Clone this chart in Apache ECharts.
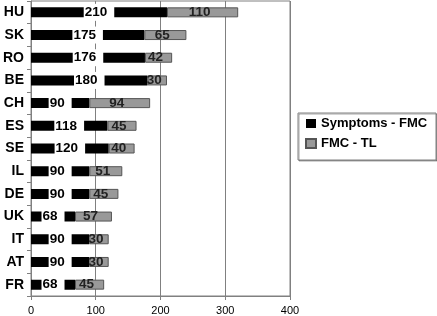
<!DOCTYPE html>
<html>
<head>
<meta charset="utf-8">
<script src="https://cdn.jsdelivr.net/npm/echarts@6/dist/echarts.min.js"></script>
<style>
  html, body { margin: 0; padding: 0; background: #fff; }
  #main { width: 437px; height: 316px; }
</style>
</head>
<body>
<div id="main"></div>
<script>
  // countries, top to bottom
  var countries = ['HU', 'SK', 'RO', 'BE', 'CH', 'ES', 'SE', 'IL', 'DE', 'UK', 'IT', 'AT', 'FR'];
  var symptomsFmc = [210, 175, 176, 180, 90, 118, 120, 90, 90, 68, 90, 90, 68];
  var fmcTl = [110, 65, 42, 30, 94, 45, 40, 51, 45, 57, 30, 30, 45];
  var seriesNames = ['Symptoms - FMC', 'FMC - TL'];

  var chart = echarts.init(document.getElementById('main'));
  var font = 'Liberation Sans, Arial, sans-serif';

  chart.setOption({
    animation: false,
    textStyle: { fontFamily: font },
    grid: {
      left: 29, right: 147, top: 1, bottom: 20,
      show: true, borderColor: '#808080', borderWidth: 1
    },
    graphic: [{
      type: 'rect',
      shape: { x: 298, y: 113, width: 138, height: 47 },
      style: { fill: '#fff', stroke: '#808080', lineWidth: 1,
               shadowColor: 'rgba(0,0,0,0.35)', shadowOffsetX: 1, shadowOffsetY: 1 }
    }],
    legend: {
      orient: 'vertical',
      left: 305, top: 117, padding: 0,
      itemWidth: 10, itemHeight: 9, itemGap: 7,
      icon: 'rect',
      textStyle: { fontSize: 13, fontWeight: 'bold', color: '#000', fontFamily: font },
      data: seriesNames
    },
    xAxis: {
      type: 'value',
      min: 0, max: 400, interval: 100,
      axisLine: { show: true, lineStyle: { color: '#808080' } },
      axisTick: { show: true, length: 4, lineStyle: { color: '#808080' } },
      axisLabel: { fontSize: 11, color: '#000', margin: 9 },
      splitLine: { show: true, lineStyle: { color: '#808080', width: 1 } }
    },
    yAxis: {
      type: 'category',
      inverse: true,
      data: countries,
      axisLine: { show: true, lineStyle: { color: '#808080' } },
      axisTick: { show: true, length: 4, inside: false, lineStyle: { color: '#808080' } },
      axisLabel: { fontSize: 14, fontWeight: 'bold', color: '#000', margin: 7 },
      splitLine: { show: false }
    },
    series: [{
      name: seriesNames[0],
      type: 'bar',
      stack: 'total',
      barWidth: 10,
      itemStyle: { color: '#000' },
      label: {
        show: true, position: 'inside',
        color: '#000', fontSize: 13.5, fontWeight: 'bold',
        backgroundColor: '#fff', padding: [2, 7, 1, 1]
      },
      data: symptomsFmc
    }, {
      name: seriesNames[1],
      type: 'bar',
      stack: 'total',
      barWidth: 10,
      itemStyle: { color: '#999999', borderColor: '#555', borderWidth: 1 },
      label: {
        show: true, position: 'inside',
        color: '#222', fontSize: 13.5, fontWeight: 'bold',
        padding: [2, 7, 1, 1]
      },
      data: fmcTl
    }]
  });

  window.addEventListener('resize', chart.resize);
</script>
</body>
</html>
